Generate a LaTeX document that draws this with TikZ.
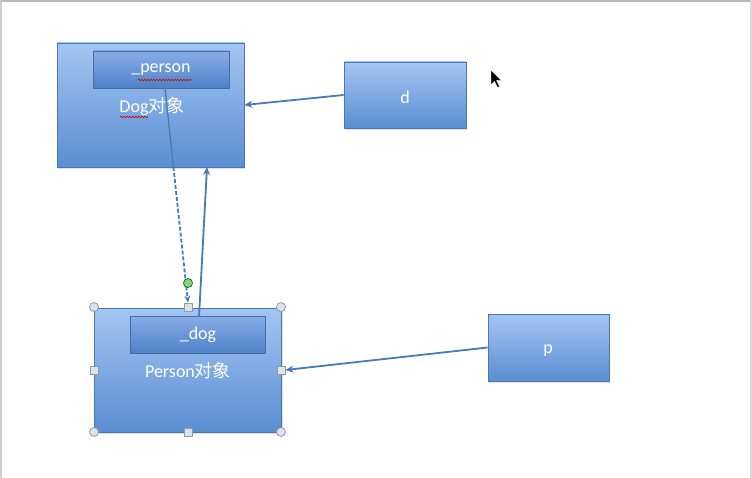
\documentclass[tikz,border=0pt]{standalone}
\usepackage{fontspec}
\setmainfont{Carlito}
\newfontfamily\cjk{Noto Sans CJK SC}
\usetikzlibrary{shadows,arrows.meta,decorations.pathmorphing}
\definecolor{boxtop}{HTML}{A3C6F2}
\definecolor{boxbot}{HTML}{5A8DD3}
\definecolor{boxline}{HTML}{4A78B5}
\definecolor{intop}{HTML}{86ADE6}
\definecolor{inbot}{HTML}{4F81C9}
\definecolor{conn}{HTML}{4A7AB6}
\definecolor{handle}{HTML}{DCE3EE}
\definecolor{rotg}{HTML}{8DD08A}
\tikzset{
  objbox/.style={draw=boxline, line width=0.8pt, top color=boxtop, bottom color=boxbot,
    drop shadow={opacity=0.25, shadow xshift=1pt, shadow yshift=-2pt},
    text=white, inner sep=0pt},
  fieldbox/.style={draw=boxline!90!black, line width=0.8pt, top color=intop, bottom color=inbot,
    text=white, inner sep=0pt, font=\fontsize{18}{18}\selectfont},
  lbl/.style={text=white, font=\fontsize{18}{18}\selectfont},
  conn/.style={draw=conn, line width=1.8pt, -{Stealth[length=8pt,width=7pt]}},
  hround/.style={circle, draw=gray!80, fill=handle, line width=0.8pt, minimum size=9pt, inner sep=0pt},
  hsquare/.style={rectangle, draw=gray!80, fill=handle, line width=0.8pt, minimum size=8pt, inner sep=0pt},
  squig/.style={draw=red!85!black, line width=0.6pt, decorate, decoration={snake, amplitude=0.8pt, segment length=3pt}}
}
\begin{document}
\begin{tikzpicture}[x=1pt,y=-1pt]
\useasboundingbox (0,0) rectangle (752,478);
% window frame
\fill[gray!55] (0,0) rectangle (752,2);
\fill[gray!40] (0,0) rectangle (2,478);
\fill[gray!30] (750,0) rectangle (752,478);

% Dog object
\node[objbox, minimum width=187pt, minimum height=124pt] (dog) at (150.5,105) {};
\node[fieldbox, minimum width=136pt, minimum height=37pt] (pinner) at (161,69.5) {\_person};
\node[lbl] (dogl) at (152,106) {Dog\cjk 对象};
\draw[squig] (138,80) -- (192,80);
\draw[squig] (120,117) -- (148,117);

% d
\node[objbox, minimum width=122pt, minimum height=66pt] (d) at (405,95) {};
\node[lbl] (dl) at (405,97) {d};

% Person object
\node[objbox, minimum width=187pt, minimum height=124pt] (person) at (188,370) {};
\node[fieldbox, minimum width=135pt, minimum height=37pt] (dinner) at (198,334.5) {\_dog};
\node[lbl] (personl) at (188,371) {Person\cjk 对象};

% p
\node[objbox, minimum width=121pt, minimum height=67pt] (p) at (548.5,347.5) {};
\node[lbl] (pl) at (548,351) {p};

% selection handles
\node[hround] (hc1) at (94,307) {};
\node[hround] (hc2) at (281,307) {};
\node[hround] (hc3) at (94,432) {};
\node[hround] (hc4) at (281,432) {};
\node[hsquare] (htop) at (188,307) {};
\node[hsquare] (hleft) at (94,370) {};
\node[hsquare] (hright) at (281,370) {};
\node[hsquare] (hbot) at (188,432) {};

% connectors
\draw[conn] (d.west) -- (dog.east);
\draw[conn] (p.west) -- (hright.east);

\coordinate (ps) at (165,88);
\coordinate (pd) at (173.4,167);
\draw[draw=conn, line width=1.3pt] (ps) -- (pd);
\draw[conn, dashed, dash pattern=on 4pt off 2pt, -{Stealth[length=7pt,width=6pt]}] (pd) -- (htop.north);
\node[circle, draw=green!45!black, fill=rotg, line width=0.7pt, minimum size=9pt, inner sep=0pt] (hrot) at (188,283) {};

\coordinate (us) at (199,317);
\coordinate (ue) at (207,167);
\draw[conn] (us) -- (ue);

% mouse cursor
\coordinate (cur) at (491,70);
\fill[black] (cur) -- ++(0,15) -- ++(3.5,-3.5) -- ++(3,6) -- ++(2,-1) -- ++(-3,-6) -- ++(5,0) -- cycle;
\draw[white, line width=0.4pt] (cur) -- ++(0,15) -- ++(3.5,-3.5) -- ++(3,6) -- ++(2,-1) -- ++(-3,-6) -- ++(5,0) -- cycle;
\end{tikzpicture}
\end{document}
